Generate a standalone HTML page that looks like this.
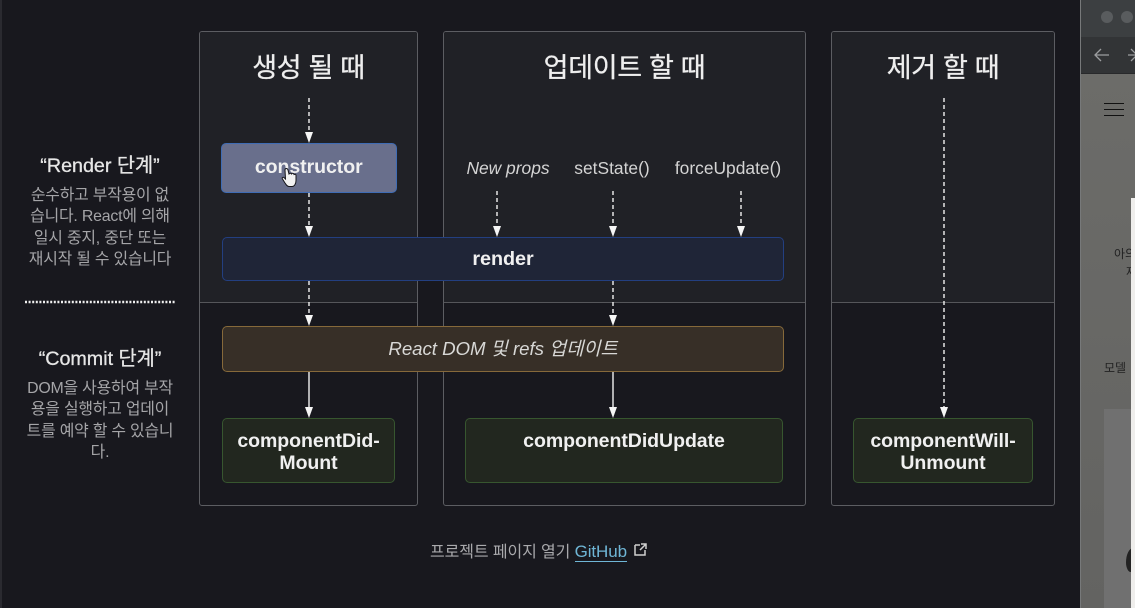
<!DOCTYPE html>
<html><head><meta charset="utf-8">
<style>
html,body{margin:0;padding:0;width:1135px;height:608px;overflow:hidden;background:#18181e}
body{position:relative;font-family:"Liberation Sans","Noto Sans CJK KR",sans-serif;color:#e8e8e8}
.a{position:absolute;box-sizing:border-box}
.t{position:absolute;white-space:nowrap;text-align:center}
.col{position:absolute;box-sizing:border-box;top:31px;height:475px;border:1.5px solid #5c5d62;border-radius:3px;overflow:hidden;background:#18181e}
.col i{position:absolute;left:0;right:0;top:0;height:270px;background:#202126;border-bottom:1.5px solid #55565a;display:block}
.h{font-size:27px;font-weight:400;color:#eeeeee;letter-spacing:-.3px;-webkit-text-stroke:.3px #eeeeee}
.box{position:absolute;box-sizing:border-box;border-radius:5px;text-align:center;font-weight:700;font-size:19.5px;color:#f0f0f0;letter-spacing:-.05px}
.g{background:#22271f;border:1.2px solid #37562f;line-height:22px;padding-top:10.500px}
.side{font-size:15.9px;line-height:21.6px;color:#a5a5a8;width:170px;letter-spacing:-.2px}
.sh{font-size:19.7px;font-weight:400;color:#e6e6e6;-webkit-text-stroke:.3px #e6e6e6}
.lbl{font-size:17.4px;color:#d4d4d4}
</style></head><body>
<div class="a" style="left:0;top:0;width:1.5px;height:608px;background:#2a2a30"></div>

<div class="col" style="left:199px;width:219px"><i></i></div>
<div class="col" style="left:443px;width:363px"><i></i></div>
<div class="col" style="left:831px;width:224px"><i></i></div>

<div class="t h" style="left:199px;width:219px;top:46px">생성 될 때</div>
<div class="t h" style="left:443px;width:363px;top:46px">업데이트 할 때</div>
<div class="t h" style="left:831px;width:224px;top:46px">제거 할 때</div>

<div class="t lbl" style="left:458px;width:100px;top:158px;font-style:italic">New props</div>
<div class="t lbl" style="left:562px;width:100px;top:158px">setState()</div>
<div class="t lbl" style="left:668px;width:120px;top:158px">forceUpdate()</div>

<div class="box" style="left:221px;top:143px;width:175.500px;height:50px;background:#696f8c;border:1.5px solid #3f6cb4;line-height:46px">constructor</div>
<div class="box" style="left:222px;top:237px;width:562px;height:44px;background:#1f2537;border:1.3px solid #233f80;line-height:42px;font-size:19.800px">render</div>
<div class="box" style="left:222px;top:326px;width:562px;height:46px;background:#372f27;border:1.3px solid #86693a;line-height:43px;font-weight:400;font-style:italic;color:#d8d8d6;font-size:18.700px">React DOM 및 refs 업데이트</div>
<div class="box g" style="left:222px;top:418px;width:173px;height:65px">componentDid-<br>Mount</div>
<div class="box g" style="left:465px;top:418px;width:318px;height:65px">componentDidUpdate</div>
<div class="box g" style="left:853px;top:418px;width:180px;height:65px">componentWill-<br>Unmount</div>

<svg class="a" style="left:0;top:0" width="1135" height="608" viewBox="0 0 1135 608">
<g stroke="#f2f2f2" stroke-width="1.4" fill="none">
<path d="M309 98V134" stroke-dasharray="4 3"/>
<path d="M309 193V228" stroke-dasharray="4 3"/>
<path d="M309 281V318" stroke-dasharray="4 3"/>
<path d="M309 372V410"/>
<path d="M497 191V228" stroke-dasharray="4 3"/>
<path d="M613 191V228" stroke-dasharray="4 3"/>
<path d="M741 191V228" stroke-dasharray="4 3"/>
<path d="M613 281V318" stroke-dasharray="4 3"/>
<path d="M613 372V410"/>
<path d="M944 98V408" stroke-dasharray="4 3"/>
</g>
<g fill="#f6f6f6">
<path d="M305 132h8l-4 11z"/>
<path d="M305 226h8l-4 11z"/>
<path d="M305 315h8l-4 11z"/>
<path d="M305 407h8l-4 11z"/>
<path d="M493 226h8l-4 11z"/>
<path d="M609 226h8l-4 11z"/>
<path d="M737 226h8l-4 11z"/>
<path d="M609 315h8l-4 11z"/>
<path d="M609 407h8l-4 11z"/>
<path d="M940 407h8l-4 11z"/>
</g>
<path d="M285 170c0-2 2.500-2 3 0l1 4c1-1 2-1 2.500 0c1-1 2-1 2.500 .5c1-.5 2-.5 2 1v5c0 3-1.500 6-4 6h-3c-2 0-3-2-4-3.500l-2.500-4c-1-1.500 .5-2.500 2-1l1 1z" fill="#f2f2f2" stroke="#15151a" stroke-width="1"/>
<path d="M25 302H175" stroke="#efefef" stroke-width="2.400" stroke-dasharray="2 1.600"/>
<path d="M635 545h5M635 545v10h10v-5M641 544h5v5M646 544l-6 6" fill="none" stroke="#cfcfcf" stroke-width="1.500"/>
</svg>

<div class="t sh" style="left:15px;width:170px;top:149px">“Render 단계”</div>
<div class="t side" style="left:15px;top:184.500px">순수하고 부작용이 없<br>습니다. React에 의해<br>일시 중지, 중단 또는<br>재시작 될 수 있습니다</div>
<div class="t sh" style="left:15px;width:170px;top:342px">“Commit 단계”</div>
<div class="t side" style="left:15px;top:377.500px">DOM을 사용하여 부작<br>용을 실행하고 업데이<br>트를 예약 할 수 있습니<br>다.</div>

<div class="t" style="left:430px;top:538px;font-size:16px;color:#a9a9ac;letter-spacing:-.1px">프로젝트 페이지 열기 <span style="color:#6fb6d6;border-bottom:1px solid #6fb6d6;font-size:17px">GitHub</span></div>

<!-- right window -->
<div class="a" style="left:1080px;top:0;width:55px;height:608px;background:linear-gradient(#6d6d6a,#636361);border-left:1.5px solid #77797a;overflow:hidden">
<div class="a" style="left:0;top:0;width:54px;height:37px;background:#3c3f41"></div>
<div class="a" style="left:0;top:37px;width:54px;height:37px;background:#323436;border-bottom:1px solid #28292b"></div>
<div class="a" style="left:20px;top:11px;width:12px;height:12px;border-radius:50%;background:#595c5e"></div>
<div class="a" style="left:40px;top:11px;width:12px;height:12px;border-radius:50%;background:#595c5e"></div>
<svg class="a" style="left:0;top:40px" width="54" height="30"><path d="M28 15H15M20 9l-6 6 6 6" fill="none" stroke="#9c9ea0" stroke-width="1.300"/><path d="M47 15H54M50 9l6 6-6 6" fill="none" stroke="#9c9ea0" stroke-width="1.300"/></svg>
<div class="a" style="left:22.500px;top:103px;width:20px;height:1.300px;background:#111"></div>
<div class="a" style="left:22.500px;top:109px;width:20px;height:1.300px;background:#111"></div>
<div class="a" style="left:22.500px;top:115px;width:20px;height:1.300px;background:#111"></div>
<div class="a" style="left:22.500px;top:409px;width:30px;height:199px;background:#707070"></div>
<div class="t" style="left:33px;top:245px;font-size:12px;color:#222">아의</div>
<div class="t" style="left:45px;top:263px;font-size:12px;color:#222">재</div>
<div class="t" style="left:23px;top:359px;font-size:12px;color:#222">모델</div>
<div class="a" style="left:45px;top:548px;width:12px;height:24px;border-radius:60% 0 0 40%;background:#222"></div>
<div class="a" style="left:49.500px;top:198px;width:5px;height:410px;background:#efeeec"></div>
</div>
</body></html>
